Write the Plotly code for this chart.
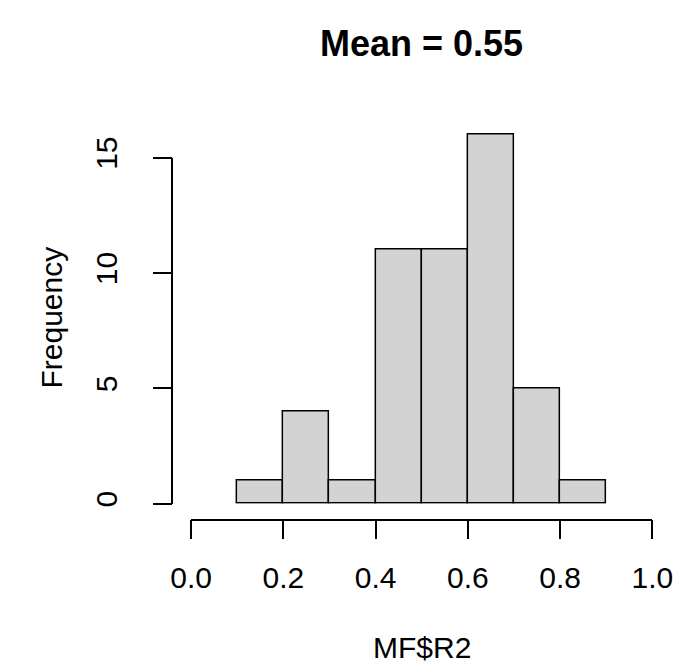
import plotly.graph_objects as go

# ---- data ----
bin_edges = [0.1, 0.2, 0.3, 0.4, 0.5, 0.6, 0.7, 0.8, 0.9]
counts = [1, 4, 1, 11, 11, 16, 5, 1]
x_ticks = [0.0, 0.2, 0.4, 0.6, 0.8, 1.0]
x_tick_labels = ["0.0", "0.2", "0.4", "0.6", "0.8", "1.0"]
y_ticks = [0, 5, 10, 15]
y_tick_labels = ["0", "5", "10", "15"]
title_text = "Mean = 0.55"
x_label = "MF$R2"
y_label = "Frequency"

centers = [(a + b) / 2 for a, b in zip(bin_edges[:-1], bin_edges[1:])]
widths = [b - a for a, b in zip(bin_edges[:-1], bin_edges[1:])]

W, H = 696, 667
FONT = "Liberation Sans, Arial, Helvetica, sans-serif"


def px(x):
    return x / W


def py(y):
    return 1 - y / H


fig = go.Figure()
fig.add_trace(go.Bar(
    x=centers, y=counts, width=widths,
    marker=dict(color="#D3D3D3", line=dict(color="black", width=1.5)),
    xaxis="x", yaxis="y", showlegend=False, hoverinfo="x+y",
))
# empty trace to host the visible R-style axes
fig.add_trace(go.Scatter(x=[], y=[], xaxis="x2", yaxis="y2",
                         showlegend=False, hoverinfo="skip"))

x_dom = [px(181), px(672)]
axis_line = dict(showline=True, linecolor="black", linewidth=1.5,
                 ticks="outside", ticklen=19, tickwidth=1.5, tickcolor="black",
                 showgrid=False, zeroline=False,
                 tickfont=dict(family=FONT, size=30, color="black"))

fig.update_layout(
    width=W, height=H,
    margin=dict(l=0, r=0, t=0, b=0),
    paper_bgcolor="white", plot_bgcolor="rgba(0,0,0,0)",
    bargap=0,
    xaxis=dict(domain=x_dom, range=[0, 1], visible=False, fixedrange=True),
    yaxis=dict(domain=[py(501.5), py(94)], range=[0, 17], visible=False, fixedrange=True),
    xaxis2=dict(domain=x_dom, range=[0, 1], anchor="free", position=py(518),
                tickmode="array", tickvals=x_ticks, ticktext=x_tick_labels,
                ticklabelstandoff=13, fixedrange=True, **axis_line),
    yaxis2=dict(domain=[py(501.5), py(142)], range=[0, 15], anchor="free", position=px(161),
                tickmode="array", tickvals=y_ticks, ticktext=y_tick_labels,
                tickangle=-90, ticklabelstandoff=24, fixedrange=True, **axis_line),
    annotations=[
        dict(text="<b>" + title_text + "</b>", x=px(426.5), y=py(23.5),
             xref="paper", yref="paper", xanchor="center", yanchor="middle",
             showarrow=False, font=dict(family=FONT, size=36, color="black")),
        dict(text=x_label, x=px(426.5), y=py(651),
             xref="paper", yref="paper", xanchor="center", yanchor="middle",
             showarrow=False, font=dict(family=FONT, size=30, color="black")),
        dict(text=y_label, x=px(32), y=py(308), textangle=-90,
             xref="paper", yref="paper", xanchor="center", yanchor="middle",
             showarrow=False, font=dict(family=FONT, size=30, color="black")),
    ],
)

fig.write_html(
    "out.html",
    config={"displayModeBar": False},
    post_script="document.body.style.margin='0';document.body.style.overflow='hidden';",
)
